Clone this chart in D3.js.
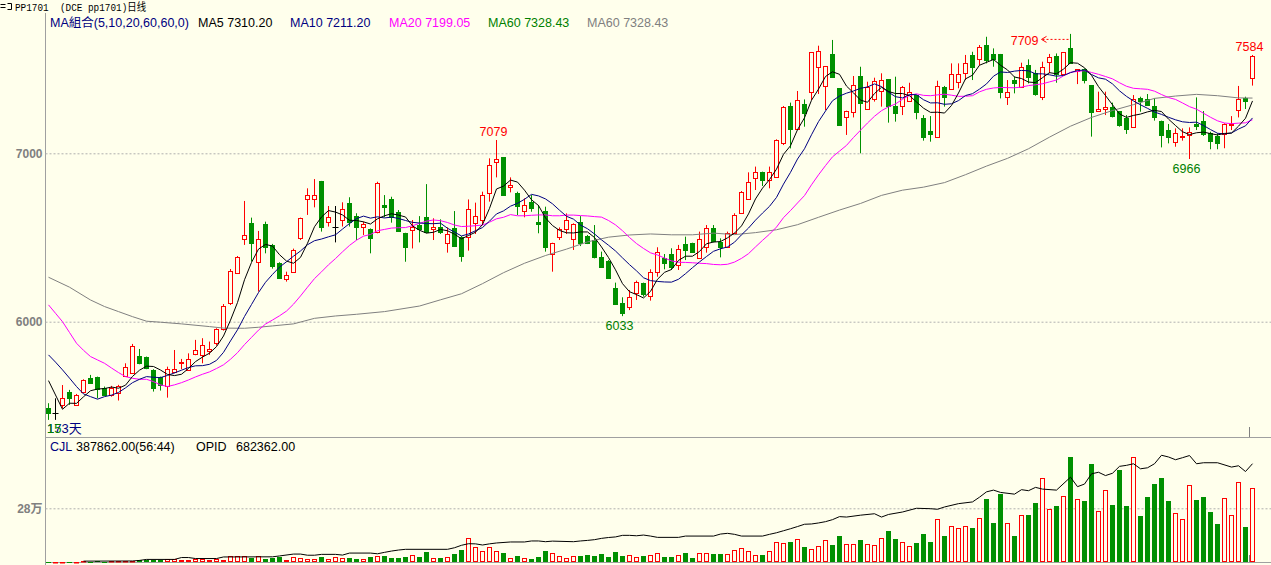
<!DOCTYPE html>
<html><head><meta charset="utf-8">
<script src="https://cdnjs.cloudflare.com/ajax/libs/d3/7.8.5/d3.min.js"></script>
<style>html,body{margin:0;padding:0;background:#ffffec;overflow:hidden}svg{display:block}</style>
</head><body><svg id="chart" width="1271" height="565"></svg>
<script>
// ---------- data ----------
const titleText = "PP1701  (DCE pp1701)日线";
const openP = [5486,5456,5506,5585,5504,5585,5664,5670,5605,5563,
5579,5680,5698,5797,5789,5714,5670,5621,5704,5757,
5714,5807,5801,5826,5876,5955,6109,6288,6489,6588,
6357,6580,6456,6347,6254,6297,6495,6731,6731,6836,
6590,6565,6604,6707,6628,6564,6548,6530,6693,6728,
6653,6528,6544,6574,6620,6552,6560,6469,6554,6505,
6501,6584,6604,6766,6950,6976,6802,6766,6659,6713,
6594,6659,6400,6501,6548,6489,6594,6509,6485,6386,
6362,6198,6109,6089,6172,6228,6152,6297,6380,6402,
6337,6460,6465,6380,6446,6556,6473,6446,6525,6644,
6727,6851,6891,6841,6861,7059,7281,7146,7293,7362,
7510,7400,7590,7386,7213,7247,7459,7265,7324,7372,
7441,7281,7281,7312,7344,7209,7130,7099,7392,7380,
7425,7479,7584,7558,7643,7590,7590,7336,7435,7396,
7524,7475,7336,7540,7578,7471,7623,7487,7498,7405,
7253,7265,7273,7251,7208,7158,7326,7320,7281,7194,
7138,7065,7100,7109,7172,7192,7119,7103,7115,7170,
7257,7326,7445];
const highP = [5516,5545,5624,5595,5571,5658,5684,5674,5615,5619,
5625,5753,5868,5838,5793,5718,5674,5733,5832,5779,
5812,5892,5902,5882,5961,6105,6313,6390,6717,6618,
6539,6594,6462,6353,6297,6434,6618,6792,6847,6836,
6687,6687,6709,6739,6644,6594,6554,6831,6752,6742,
6663,6528,6604,6627,6817,6614,6608,6560,6657,6509,
6726,6707,6772,6970,7079,6976,6857,6772,6732,6752,
6693,6683,6469,6560,6643,6584,6627,6515,6574,6416,
6366,6232,6145,6188,6244,6232,6311,6442,6402,6436,
6456,6505,6469,6535,6574,6574,6495,6535,6644,6776,
6887,6921,6891,6921,7083,7281,7301,7370,7320,7599,
7639,7518,7673,7386,7253,7459,7514,7425,7449,7475,
7441,7455,7400,7419,7344,7227,7221,7431,7400,7534,
7534,7584,7603,7643,7692,7623,7590,7435,7455,7538,
7558,7495,7544,7590,7593,7599,7709,7498,7504,7405,
7366,7366,7301,7251,7227,7346,7336,7352,7326,7194,
7174,7148,7148,7154,7332,7251,7128,7119,7178,7221,
7400,7336,7584];
const lowP = [5417,5417,5486,5506,5502,5575,5634,5545,5563,5555,
5532,5674,5690,5747,5718,5585,5591,5549,5694,5718,
5710,5801,5753,5803,5858,5947,6099,6284,6456,6357,
6179,6406,6315,6254,6238,6295,6485,6634,6679,6535,
6565,6471,6565,6565,6485,6515,6406,6525,6620,6588,
6535,6356,6435,6471,6525,6485,6521,6410,6445,6356,
6422,6521,6574,6713,6857,6752,6768,6633,6620,6653,
6525,6416,6297,6485,6521,6426,6449,6461,6376,6323,
6257,6099,6033,6069,6129,6149,6125,6267,6311,6307,
6307,6366,6410,6376,6410,6471,6382,6442,6521,6640,
6723,6782,6806,6792,6857,7049,7029,7138,7158,7316,
7352,7257,7455,7168,7109,7213,7000,7263,7307,7277,
7182,7188,7227,7307,7202,7075,7069,7095,7277,7376,
7386,7435,7435,7524,7534,7514,7326,7287,7356,7392,
7415,7342,7316,7475,7419,7465,7534,7411,7415,7099,
7253,7227,7213,7158,7115,7152,7247,7287,7194,7035,
7059,7039,7075,6966,7138,7103,7024,7024,7030,7138,
7213,7263,7402];
const closeP = [5460,5456,5549,5549,5563,5652,5638,5599,5565,5605,
5619,5729,5856,5753,5724,5609,5625,5722,5722,5763,
5777,5830,5860,5836,5955,6094,6301,6382,6515,6466,
6489,6442,6331,6262,6276,6426,6614,6751,6752,6565,
6620,6565,6667,6594,6561,6578,6499,6825,6681,6620,
6540,6445,6560,6550,6534,6564,6534,6519,6449,6392,
6667,6627,6750,6930,6964,6752,6811,6687,6693,6677,
6580,6442,6465,6548,6604,6578,6469,6465,6382,6327,
6261,6105,6054,6145,6238,6164,6297,6416,6350,6323,
6432,6426,6416,6489,6554,6479,6442,6525,6632,6768,
6831,6891,6841,6887,7079,7273,7146,7314,7241,7599,
7607,7518,7455,7168,7249,7406,7301,7392,7427,7435,
7281,7241,7392,7362,7247,7099,7113,7400,7336,7471,
7471,7534,7510,7629,7554,7558,7366,7366,7419,7510,
7455,7352,7510,7570,7471,7599,7538,7498,7435,7247,
7263,7273,7221,7168,7142,7320,7312,7287,7213,7109,
7095,7119,7105,7128,7164,7115,7075,7063,7172,7174,
7320,7312,7578];
const volume = [1200,1000,1500,1800,2000,3500,2500,3000,2500,3000,
3000,3500,4000,8700,12200,8700,8700,17500,15700,8700,
8700,17500,17500,8700,14000,8700,29700,29700,29700,22700,
29700,15700,19200,26200,12200,24000,19100,13900,13900,24300,
13900,24300,19100,19100,13900,13900,24300,29600,29600,19100,
19100,24300,34800,24300,52200,19100,19100,24300,41700,62600,
123500,76500,57400,76500,57400,45200,19100,29600,19100,13900,
24300,57400,45200,29600,19100,29600,29600,34800,29600,40000,
24300,52200,29600,34800,24300,31300,36500,47000,26100,26100,
36500,47000,20900,47000,47000,41700,41700,41700,62600,73000,
57400,36500,36500,57400,104300,99100,104300,120000,78300,67800,
83500,114800,88700,135600,92200,92200,114800,92200,87000,123500,
161700,120000,102600,81700,97400,146100,104300,222600,135600,186100,
175600,189600,177400,227800,328700,201700,354800,201700,135600,243500,
243500,309500,436500,274800,292200,344300,547800,326900,318200,513000,
266100,373900,297400,480000,292200,547800,240000,339100,408700,438200,
318200,255600,222600,401700,323500,339100,260900,198200,332100,243500,
415600,182600,387862];
const ma5 = [5650,5565,5480,5516,5515,5554,5590,5600,5603,5612,
5605,5623,5675,5712,5736,5734,5713,5687,5680,5688,
5722,5763,5790,5813,5852,5915,6009,6114,6249,6352,
6431,6459,6449,6398,6360,6347,6382,6466,6564,6622,
6660,6651,6634,6602,6601,6593,6580,6611,6629,6641,
6633,6622,6569,6543,6526,6531,6548,6540,6520,6492,
6512,6531,6577,6673,6788,6805,6841,6829,6781,6724,
6690,6616,6571,6542,6528,6527,6533,6533,6500,6444,
6381,6308,6226,6178,6161,6141,6180,6252,6293,6310,
6364,6389,6389,6417,6463,6473,6476,6498,6526,6569,
6640,6729,6793,6844,6906,6994,7045,7140,7211,7315,
7381,7456,7484,7469,7399,7359,7316,7303,7355,7392,
7367,7355,7355,7342,7305,7268,7243,7244,7239,7284,
7358,7442,7464,7523,7540,7557,7523,7495,7453,7444,
7423,7420,7449,7479,7472,7500,7538,7535,7508,7463,
7396,7343,7288,7234,7213,7225,7233,7246,7255,7248,
7203,7165,7128,7111,7122,7126,7117,7109,7118,7120,
7161,7208,7311];
const ma10 = [5803,5760,5714,5665,5615,5571,5555,5540,5555,5564,
5580,5607,5638,5658,5674,5670,5668,5681,5696,5712,
5728,5738,5739,5747,5770,5818,5886,5952,6031,6102,
6173,6234,6281,6324,6356,6389,6420,6457,6481,6491,
6504,6516,6550,6583,6612,6627,6615,6623,6616,6621,
6613,6601,6590,6586,6583,6582,6585,6555,6532,6509,
6521,6540,6559,6597,6640,6658,6686,6703,6727,6756,
6747,6729,6700,6662,6626,6609,6574,6552,6521,6486,
6454,6420,6379,6339,6302,6261,6244,6239,6236,6235,
6252,6285,6321,6355,6387,6418,6433,6444,6472,6516,
6556,6603,6645,6685,6738,6817,6887,6966,7027,7110,
7188,7251,7312,7340,7357,7370,7386,7394,7412,7396,
7363,7336,7329,7349,7348,7318,7299,7300,7291,7294,
7313,7343,7354,7381,7412,7458,7483,7480,7488,7492,
7490,7472,7472,7466,7458,7462,7479,7492,7494,7468,
7448,7440,7412,7371,7338,7311,7288,7267,7245,7231,
7214,7199,7187,7183,7185,7165,7141,7119,7115,7121,
7144,7163,7210];
const ma20 = [6100,6050,6000,5936,5872,5830,5793,5773,5753,5725,
5698,5674,5664,5658,5658,5644,5625,5615,5625,5638,
5654,5672,5688,5702,5722,5744,5777,5816,5864,5907,
5950,5986,6010,6035,6063,6104,6153,6205,6256,6296,
6338,6375,6415,6453,6484,6508,6518,6540,6548,6556,
6558,6559,6570,6584,6597,6604,6600,6589,6574,6565,
6567,6570,6574,6591,6611,6620,6636,6629,6629,6632,
6634,6634,6629,6629,6633,6633,6630,6628,6624,6621,
6601,6575,6540,6500,6464,6435,6409,6396,6378,6361,
6353,6352,6350,6347,6345,6340,6338,6341,6354,6376,
6404,6444,6483,6520,6562,6618,6660,6705,6749,6813,
6872,6927,6979,7013,7047,7094,7137,7180,7220,7253,
7276,7293,7321,7344,7353,7344,7342,7347,7351,7345,
7338,7339,7342,7365,7380,7388,7391,7390,7389,7393,
7402,7407,7413,7424,7435,7460,7481,7486,7491,7480,
7469,7456,7442,7419,7398,7386,7383,7380,7369,7349,
7331,7320,7299,7277,7262,7238,7214,7193,7180,7176,
7179,7181,7199];
const ma60 = [[0,6264],[3,6205],[6,6129],[8,6090],[10,6060],[12,6030],[14,6003],[16,5997],[19,5987],[23,5971],[25,5962],[28,5961],[30,5967],[32,5975],[35,5987],[38,6020],[41,6034],[44,6044],[48,6060],[53,6093],[56,6130],[59,6166],[62,6226],[65,6291],[68,6347],[71,6393],[74,6431],[77,6474],[80,6502],[83,6515],[86,6521],[89,6516],[92,6516],[95,6526],[98,6517],[101,6529],[104,6546],[107,6576],[110,6620],[113,6663],[116,6702],[119,6750],[122,6781],[125,6799],[128,6826],[131,6873],[134,6924],[137,6970],[140,7027],[143,7096],[146,7161],[149,7213],[152,7254],[155,7289],[158,7326],[161,7340],[164,7350],[167,7342],[170,7329],[172,7328]];
const opid = [[5,6000],[12,7000],[13,11000],[14,18000],[18,18000],[19,31000],[20,31000],[21,24000],[24,24000],[25,35000],[32,36000],[33,42000],[35,55000],[36,55000],[37,47000],[38,47000],[39,53000],[41,53000],[42,48000],[43,62000],[46,62000],[47,57000],[48,67000],[49,76000],[50,83000],[51,88000],[57,88000],[58,99000],[59,116000],[60,127000],[61,126000],[62,118000],[63,126000],[64,132000],[66,139000],[68,139000],[69,146000],[70,146000],[71,141000],[72,145000],[75,141000],[76,146000],[77,150000],[78,155000],[79,164000],[80,170000],[81,174000],[82,185000],[83,185000],[84,182000],[85,187000],[86,180000],[87,171000],[90,171000],[91,180000],[95,180000],[96,194000],[97,199000],[98,192000],[99,180000],[102,180000],[103,192000],[104,203000],[105,217000],[106,231000],[107,246000],[108,262000],[109,264000],[110,271000],[111,280000],[112,294000],[113,315000],[114,312000],[116,325000],[118,335000],[119,312000],[120,330000],[122,347000],[124,373000],[126,370000],[127,366000],[128,382000],[130,405000],[132,417000],[133,450000],[134,487000],[135,499000],[136,483000],[138,471000],[139,502000],[140,495000],[141,518000],[142,506000],[144,499000],[146,589000],[147,523000],[148,541000],[149,612000],[150,623000],[151,600000],[152,616000],[153,664000],[154,671000],[155,682000],[156,647000],[157,654000],[158,682000],[159,741000],[160,729000],[161,710000],[162,724000],[163,739000],[164,682000],[165,689000],[167,689000],[169,659000],[170,668000],[171,628000],[172,682362]];
const priceTicks = [6000, 7000];
const volTicks = [280000];
const volTickLabels = ["28万"];
const legendItems = [
  {text:"MA組合(5,10,20,60,60,0)", color:"#000080"},
  {text:"MA5 7310.20", color:"#000000"},
  {text:"MA10 7211.20", color:"#000080"},
  {text:"MA20 7199.05", color:"#ff00ff"},
  {text:"MA60 7328.43", color:"#008000"},
  {text:"MA60 7328.43", color:"#808080"}
];
const volLegend = [
  {text:"CJL", color:"#000080"},
  {text:"387862.00(56:44)", color:"#000000"},
  {text:"OPID", color:"#000000"},
  {text:"682362.00", color:"#000000"}
];
const dayCount = "173天";
const peakMarks = [
  {i:64, v:7079, kind:"high", color:"#ff0000"},
  {i:82, v:6033, kind:"low", color:"#008000"},
  {i:172, v:7584, kind:"high", color:"#ff0000"},
  {i:163, v:6966, kind:"low", color:"#008000"}
];
const topMark = {i:146, v:7709};

// ---------- drawing ----------
const BG = "#ffffec", RED = "#ff0000", GRN = "#009000", AX = "#a0a0a0";
const FONT = "'Liberation Sans','Noto Sans CJK SC',sans-serif";
const svg = d3.select("#chart");
svg.append("rect").attr("width",1271).attr("height",565).attr("fill",BG);

const n = closeP.length;
const xs = d3.scaleLinear().domain([0, n-1]).range([48.5, 1252.5]);
const yP = d3.scaleLinear().domain([6000, 7000]).range([321.7, 153.3]);
const yV = d3.scaleLinear().domain([0, 280000]).range([562, 508.3]);
const yO = d3.scaleLinear().domain([0, 682362]).range([562, 463.7]);

// title
const tg = svg.append("g");
tg.append("path").attr("d","M0.5,4.5H5.5M0.5,7.5H5.5M7.5,3.5H11.5V9.5H7.5").attr("stroke","#000").attr("fill","none");
tg.append("text").attr("x",15).attr("y",11).attr("font-family","'Liberation Mono','Noto Sans CJK SC',monospace")
  .attr("font-size",11).attr("fill","#000").attr("xml:space","preserve")
  .attr("textLength",131).attr("lengthAdjust","spacingAndGlyphs").text(titleText);

// legend
const legX = [50, 198, 290, 389, 488, 587];
svg.append("g").selectAll("text").data(legendItems).join("text")
  .attr("x",(d,k)=>legX[k]).attr("y",27).attr("font-family",FONT).attr("font-size",12.5)
  .attr("fill",d=>d.color).text(d=>d.text);

// frame lines
svg.append("line").attr("x1",45.5).attr("x2",45.5).attr("y1",13).attr("y2",565).attr("stroke",AX);
svg.append("line").attr("x1",45).attr("x2",1271).attr("y1",437.5).attr("y2",437.5).attr("stroke",AX);
svg.append("line").attr("x1",45).attr("x2",1271).attr("y1",562.5).attr("y2",562.5).attr("stroke",AX);

// price axis + grid
const gP = svg.append("g").attr("transform","translate(45.5,0)")
  .call(d3.axisLeft(yP).tickValues(priceTicks).tickSize(-1226).tickPadding(3).tickFormat(d3.format("d")));
gP.select(".domain").remove();
gP.selectAll(".tick line").attr("stroke","#b0b0b0").attr("stroke-dasharray","2,2");
gP.selectAll(".tick text").attr("fill","#808080").attr("font-family",FONT).attr("font-size",12).attr("font-weight","bold");

// volume axis + grid
const gV = svg.append("g").attr("transform","translate(45.5,0)")
  .call(d3.axisLeft(yV).tickValues(volTicks).tickSize(-1226).tickPadding(3).tickFormat((d,k)=>volTickLabels[k]));
gV.select(".domain").remove();
gV.selectAll(".tick line").attr("stroke","#b0b0b0").attr("stroke-dasharray","2,2");
gV.selectAll(".tick text").attr("fill","#808080").attr("font-family",FONT).attr("font-size",12).attr("font-weight","bold");

// candles
const candles = d3.range(n).map(i=>({i,o:openP[i],h:highP[i],l:lowP[i],c:closeP[i]}));
const cg = svg.append("g");
candles.forEach(d=>{
  const cx = xs(d.i);
  const col = d.c > d.o ? RED : (d.c < d.o ? GRN : "#000");
  cg.append("line").attr("x1",cx).attr("x2",cx).attr("y1",yP(d.h)).attr("y2",yP(d.l)).attr("stroke",col);
  const top = yP(Math.max(d.o,d.c)), bot = yP(Math.min(d.o,d.c));
  if (d.c > d.o) {
    cg.append("rect").attr("x",cx-2).attr("y",Math.round(top)+0.5).attr("width",4)
      .attr("height",Math.max(1,Math.round(bot)-Math.round(top))).attr("fill",BG).attr("stroke",RED);
  } else if (d.c < d.o) {
    cg.append("rect").attr("x",cx-2.5).attr("y",Math.round(top)).attr("width",5)
      .attr("height",Math.max(1,Math.round(bot)-Math.round(top)+1)).attr("fill",GRN);
  } else {
    cg.append("line").attr("x1",cx-3).attr("x2",cx+3).attr("y1",Math.round(top)+0.5).attr("y2",Math.round(top)+0.5).attr("stroke","#000");
  }
});

// moving averages
const lineIdx = d3.line().x((v,k)=>xs(k)).y(v=>yP(v));
const linePair = d3.line().x(d=>xs(d[0])).y(d=>yP(d[1]));
const lg = svg.append("g").attr("fill","none").attr("stroke-width",1);
lg.append("path").attr("d",linePair(ma60)).attr("stroke","#808080");
lg.append("path").attr("d",lineIdx(ma20)).attr("stroke","#ff00ff");
lg.append("path").attr("d",lineIdx(ma10)).attr("stroke","#000080");
lg.append("path").attr("d",lineIdx(ma5)).attr("stroke","#000000");

// price marks
const mg = svg.append("g").attr("font-family",FONT).attr("font-size",12.5);
peakMarks.forEach(m=>{
  mg.append("text").attr("x",xs(m.i)-3).attr("y",m.kind==="high"? yP(m.v)-4 : yP(m.v)+14)
    .attr("text-anchor","middle").attr("fill",m.color).text(m.v);
});
{
  const tx = xs(topMark.i), ty = yP(topMark.v)+5.5;
  mg.append("text").attr("x",tx-32).attr("y",yP(topMark.v)+11).attr("text-anchor","end").attr("fill",RED).text(topMark.v);
  mg.append("path").attr("d",`M${tx-29},${ty}l5,-3M${tx-29},${ty}l5,3`).attr("stroke",RED).attr("fill","none");
  mg.append("line").attr("x1",tx-28).attr("x2",tx-1).attr("y1",ty).attr("y2",ty).attr("stroke",RED).attr("stroke-dasharray","2,2");
}
// day count label, with the green "15" that the reference prints over it
const dc = mg.append("text").attr("x",47).attr("y",433).attr("font-size",13);
dc.append("tspan").attr("fill","#000080").text(dayCount);
dc.append("tspan").attr("x",47).attr("fill","#008000").text("15");

// cursor marker
svg.append("line").attr("x1",xs(n-1)-3).attr("x2",xs(n-1)-3).attr("y1",427).attr("y2",437).attr("stroke","#808080");

// volume legend
const vlx = [50, 76, 196, 236];
svg.append("g").selectAll("text").data(volLegend).join("text")
  .attr("x",(d,k)=>vlx[k]).attr("y",451).attr("font-family",FONT).attr("font-size",12.5)
  .attr("fill",d=>d.color).text(d=>d.text);

// volume bars
const vg = svg.append("g");
volume.forEach((v,i)=>{
  const cx = xs(i), up = closeP[i] >= openP[i];
  const top = Math.round(yV(v));
  const h = Math.max(1, 562 - top);
  if (up) vg.append("rect").attr("x",cx-2).attr("y",top+0.5).attr("width",4).attr("height",Math.max(0.5,h-1)).attr("fill",BG).attr("stroke",RED);
  else vg.append("rect").attr("x",cx-2.5).attr("y",top).attr("width",5).attr("height",h).attr("fill",GRN);
});
svg.append("path").attr("d",d3.line().x(d=>xs(d[0])).y(d=>yO(d[1]))(opid)).attr("fill","none").attr("stroke","#000").attr("stroke-width",1);
svg.append("line").attr("x1",xs(n-1)-3).attr("x2",xs(n-1)-3).attr("y1",555).attr("y2",562).attr("stroke","#808080");
</script></body></html>
